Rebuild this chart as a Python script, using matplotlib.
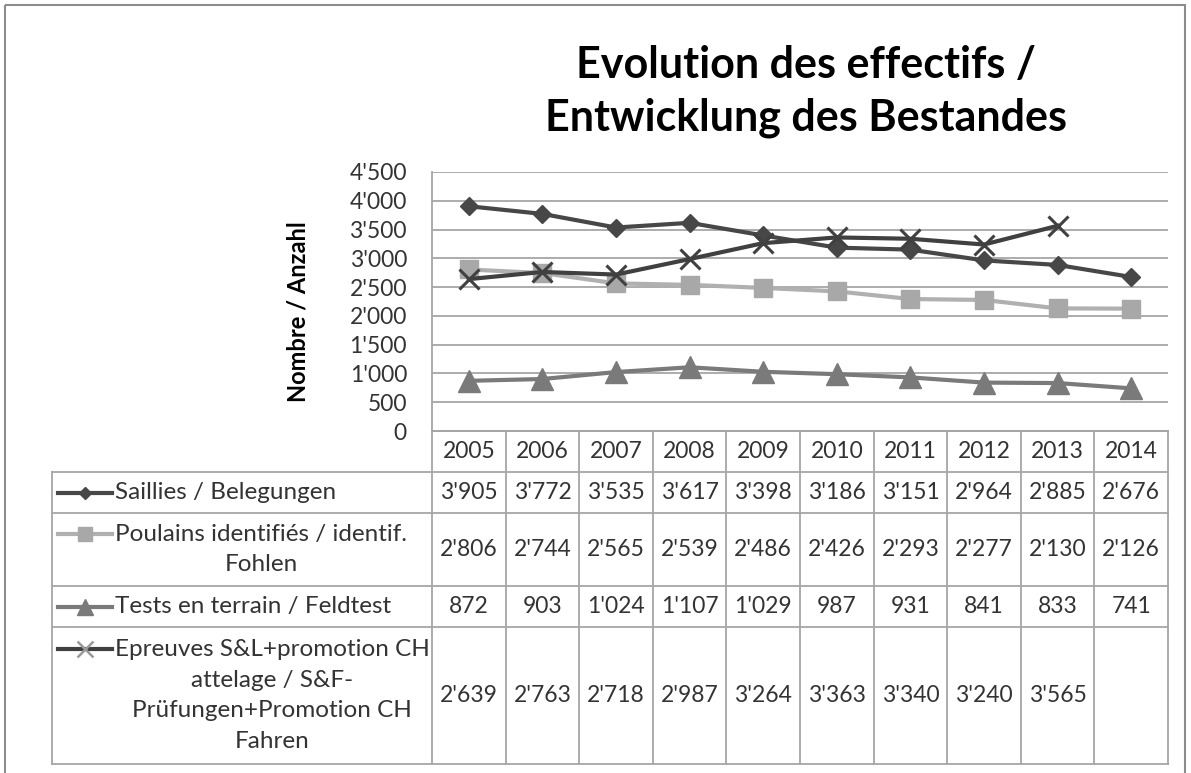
import numpy as np
import matplotlib
matplotlib.use("Agg")
import matplotlib.pyplot as plt
from matplotlib.patches import Rectangle

plt.rcParams["font.family"] = ["Lato", "DejaVu Sans"]

# ── data ────────────────────────────────────────────────────────────────
years    = [2005, 2006, 2007, 2008, 2009, 2010, 2011, 2012, 2013, 2014]
saillies = [3905, 3772, 3535, 3617, 3398, 3186, 3151, 2964, 2885, 2676]
poulains = [2806, 2744, 2565, 2539, 2486, 2426, 2293, 2277, 2130, 2126]
tests    = [872, 903, 1024, 1107, 1029, 987, 931, 841, 833, 741]
epreuves = [2639, 2763, 2718, 2987, 3264, 3363, 3340, 3240, 3565, np.nan]

series_labels = [
    "Saillies / Belegungen",
    "Poulains identifiés / identif.\nFohlen",
    "Tests en terrain / Feldtest",
    "Epreuves S&L+promotion CH\nattelage / S&F-\nPrüfungen+Promotion CH\nFahren",
]
y_ticks = [0, 500, 1000, 1500, 2000, 2500, 3000, 3500, 4000, 4500]
title_lines = ["Evolution des effectifs /", "Entwicklung des Bestandes"]
ylabel = "Nombre / Anzahl"

# styles: (line colour, marker, markersize, marker colour)
styles = [
    ("#474747", "D", 9.0, "#474747"),
    ("#b0b0b0", "s", 13.5, "#a8a8a8"),
    ("#7a7a7a", "^", 15.5, "#7a7a7a"),
    ("#404040", "x", 14.0, "#404040"),
]
key_styles = [
    ("#474747", "D", 6.5, "#474747"),
    ("#b0b0b0", "s", 10, "#a8a8a8"),
    ("#7a7a7a", "^", 11, "#7a7a7a"),
    ("#404040", "x", 11, "#9a9a9a"),
]

def fmt(v):
    if v != v:  # nan
        return ""
    return f"{int(v):,}".replace(",", "'")

# ── layout (pixels) ─────────────────────────────────────────────────────
W, H = 1191, 773
PL, PR, PT, PB = 432, 1168, 172, 431
row_edges = [431, 472, 513, 586, 627, 764]
TAB_L = 52
GRID = "#a6a6a6"
TXT = "#333333"
NUM_FS = 16.5
LAB_FS = 17.5

fig = plt.figure(figsize=(W / 100, H / 100), dpi=100, facecolor="white")

# overlay in pixel coordinates for title, table and frame
tab = fig.add_axes([0, 0, 1, 1], zorder=0)
tab.set_xlim(0, W)
tab.set_ylim(H, 0)
tab.axis("off")

ax = fig.add_axes([PL / W, 1 - PB / H, (PR - PL) / W, (PB - PT) / H], zorder=1)
ax.patch.set_alpha(0)

x = np.arange(len(years))
all_series = [saillies, poulains, tests, epreuves]
for vals, (lc, mk, ms, mc) in zip(all_series, styles):
    mew = 2.2 if mk == "x" else 1
    ax.plot(x, vals, color=lc, lw=3.0, marker=mk, ms=ms, mfc=mc, mec=mc, mew=mew,
            solid_joinstyle="round", clip_on=False)

ax.set_xlim(-0.5, len(years) - 0.5)
ax.set_ylim(0, 4500)
ax.set_xticks([])
ax.set_yticks(y_ticks)
ax.set_yticklabels([fmt(v) for v in y_ticks])
ax.tick_params(axis="y", length=0, pad=18, labelsize=NUM_FS, labelcolor=TXT)
ax.yaxis.grid(True, color=GRID, lw=1.3)
ax.set_axisbelow(True)
for s in ["top", "right"]:
    ax.spines[s].set_visible(False)
for s in ["left", "bottom"]:
    ax.spines[s].set_color(GRID)
    ax.spines[s].set_linewidth(1.3)

# y label
tab.text(298, 312, ylabel, rotation=90, ha="center", va="center",
         fontsize=17, fontweight="bold", color="black")

# title
for i, line in enumerate(title_lines):
    tab.text(806, 78 + 52 * i, line, ha="center", va="baseline",
             fontsize=31, fontweight="bold", color="black")

# ── data table ──────────────────────────────────────────────────────────
col_edges = np.linspace(PL, PR, len(years) + 1)
col_cent = 0.5 * (col_edges[:-1] + col_edges[1:])

# horizontal lines
tab.plot([PL, PR], [row_edges[0]] * 2, color=GRID, lw=1.3)
for y in row_edges[1:]:
    tab.plot([TAB_L, PR], [y, y], color=GRID, lw=1.3)
# vertical lines
for xe in col_edges:
    tab.plot([xe, xe], [row_edges[0], row_edges[-1]], color=GRID, lw=1.3)
tab.plot([TAB_L, TAB_L], [row_edges[1], row_edges[-1]], color=GRID, lw=1.3)

# header
hy = 0.5 * (row_edges[0] + row_edges[1])
for cx, yr in zip(col_cent, years):
    tab.text(cx, hy, str(yr), ha="center", va="center", fontsize=NUM_FS, color=TXT)

line_h = 31
for r, (vals, lab, ks) in enumerate(zip(all_series, series_labels, key_styles)):
    ry = 0.5 * (row_edges[r + 1] + row_edges[r + 2])
    n_lines = lab.count("\n") + 1
    tab.text(115, ry, lab, ha="left", va="center", multialignment="center",
             fontsize=LAB_FS, color=TXT, linespacing=1.55)
    ky = ry - (n_lines - 1) / 2 * line_h
    lc, mk, ms, mc = ks
    tab.plot([58, 112], [ky, ky], color=lc, lw=3.0)
    tab.plot([85], [ky], marker=mk, ms=ms, mfc=mc, mec=mc,
             mew=1.8 if mk == "x" else 1, ls="none")
    for cx, v in zip(col_cent, vals):
        tab.text(cx, ry, fmt(v), ha="center", va="center", fontsize=NUM_FS, color=TXT)

# outer frame
tab.add_patch(Rectangle((5, 5), 1180, 800, fill=False, ec="#8c8c8c", lw=1.5, clip_on=False))

fig.savefig("out.png", dpi=100, facecolor="white")
